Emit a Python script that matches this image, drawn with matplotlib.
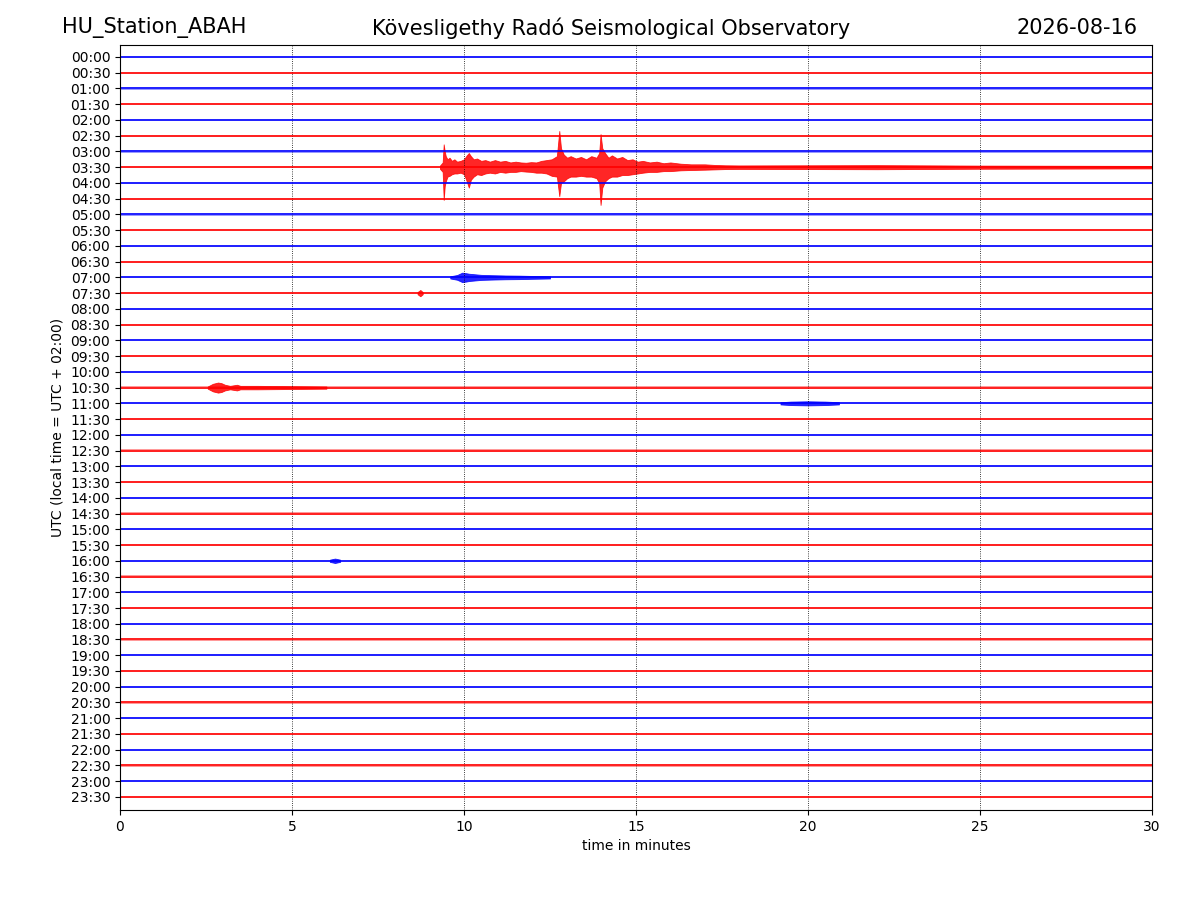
import matplotlib
matplotlib.use("Agg")
import matplotlib.pyplot as plt
import numpy as np

# ---------------- data ----------------
station = "HU_Station_ABAH"
observatory = "Kövesligethy Radó Seismological Observatory"
date_str = "2026-08-16"

row_labels = ["%02d:%02d" % (h, m) for h in range(24) for m in (0, 30)]
row_colors = ["blue", "red"]          # alternating trace colours
noise_halfwidth = 0.07                # background trace half-width (row units)

# event envelopes: times (min), upper / lower amplitude (row units)
ev_0330_row = "03:30"
ev_0330_t = [9.30, 9.38, 9.41, 9.44, 9.47, 9.52, 9.58, 9.65, 9.72, 9.80, 9.90,
             10.00, 10.08, 10.14, 10.20, 10.28, 10.38, 10.50, 10.62, 10.75, 10.90,
             11.05, 11.20, 11.35, 11.50, 11.65, 11.80, 11.95, 12.10, 12.25, 12.40,
             12.55, 12.70, 12.77, 12.82, 12.90, 13.00, 13.10, 13.25, 13.40, 13.55,
             13.70, 13.85, 13.93, 13.97, 14.02, 14.10, 14.20, 14.30, 14.45, 14.60,
             14.75, 14.90, 15.05, 15.20, 15.40, 15.60, 15.80, 16.00, 16.30, 16.60,
             17.00, 17.30, 17.60, 18.00, 20.00, 22.00, 25.00, 30.00]
ev_0330_up = [0.10, 0.30, 1.45, 1.00, 0.70, 0.50, 0.60, 0.40, 0.50, 0.35, 0.40,
              0.50, 0.75, 0.90, 0.70, 0.50, 0.55, 0.40, 0.45, 0.35, 0.45,
              0.35, 0.40, 0.30, 0.35, 0.30, 0.28, 0.32, 0.30, 0.40, 0.45,
              0.50, 0.70, 2.30, 1.20, 0.80, 0.60, 0.70, 0.55, 0.65, 0.50,
              0.70, 0.60, 0.90, 2.10, 1.20, 0.90, 0.60, 0.75, 0.55, 0.65,
              0.45, 0.50, 0.35, 0.40, 0.30, 0.35, 0.25, 0.30, 0.22, 0.18,
              0.18, 0.14, 0.12, 0.11, 0.12, 0.13, 0.10, 0.08]
ev_0330_dn = [0.10, 0.30, 2.08, 1.20, 0.90, 0.60, 0.55, 0.45, 0.40, 0.40, 0.35,
              0.45, 0.90, 1.30, 0.80, 0.60, 0.45, 0.50, 0.40, 0.35, 0.40,
              0.30, 0.35, 0.30, 0.30, 0.25, 0.28, 0.30, 0.35, 0.35, 0.40,
              0.55, 0.60, 1.84, 1.00, 0.90, 0.70, 0.60, 0.60, 0.55, 0.60,
              0.60, 0.70, 1.00, 2.40, 1.30, 0.90, 0.70, 0.60, 0.60, 0.50,
              0.50, 0.45, 0.40, 0.35, 0.30, 0.30, 0.25, 0.25, 0.20, 0.18,
              0.16, 0.14, 0.12, 0.11, 0.12, 0.13, 0.10, 0.08]

ev_0700_row = "07:00"
ev_0700_t = [9.60, 9.80, 9.95, 10.05, 10.15, 10.30, 10.50, 10.80, 11.20, 11.60, 12.00, 12.50]
ev_0700_a = [0.07, 0.15, 0.30, 0.27, 0.23, 0.20, 0.16, 0.14, 0.12, 0.11, 0.09, 0.07]

ev_0730_row = "07:30"
ev_0730_t = [8.65, 8.73, 8.80]
ev_0730_a = [0.07, 0.20, 0.07]

ev_1030_row = "10:30"
ev_1030_t = [2.55, 2.70, 2.85, 2.95, 3.05, 3.20, 3.40, 3.50, 4.00, 4.50, 5.50, 6.00]
ev_1030_a = [0.07, 0.24, 0.32, 0.28, 0.18, 0.11, 0.18, 0.11, 0.11, 0.10, 0.08, 0.07]

ev_1100_row = "11:00"
ev_1100_t = [19.20, 19.50, 20.00, 20.50, 20.90]
ev_1100_a = [0.07, 0.11, 0.13, 0.11, 0.07]

ev_1600_row = "16:00"
ev_1600_t = [6.10, 6.25, 6.40]
ev_1600_a = [0.07, 0.14, 0.07]

x_ticks = [0, 5, 10, 15, 20, 25, 30]

# ---------------- plot ----------------
fig = plt.figure(figsize=(12, 9), dpi=100)
ax = fig.add_axes([0.1, 0.1, 0.86, 0.85])

n = len(row_labels)
offsets = [-i for i in range(n)]

for i, lab in enumerate(row_labels):
    c = row_colors[i % 2]
    ax.fill_between([0, 30], offsets[i] - noise_halfwidth, offsets[i] + noise_halfwidth,
                    color=c, lw=0, alpha=0.4)
    ax.plot([0, 30], [offsets[i], offsets[i]], color=c, lw=1.1)

events = [
    (ev_0330_row, ev_0330_t, ev_0330_up, ev_0330_dn),
    (ev_0700_row, ev_0700_t, ev_0700_a, ev_0700_a),
    (ev_0730_row, ev_0730_t, ev_0730_a, ev_0730_a),
    (ev_1030_row, ev_1030_t, ev_1030_a, ev_1030_a),
    (ev_1100_row, ev_1100_t, ev_1100_a, ev_1100_a),
    (ev_1600_row, ev_1600_t, ev_1600_a, ev_1600_a),
]
for lab, t, up, dn in events:
    i = row_labels.index(lab)
    c = row_colors[i % 2]
    y0 = offsets[i]
    ax.fill_between(t, [y0 - d for d in dn], [y0 + u for u in up],
                    color=c, lw=0.6, edgecolor=c, alpha=0.85)

ax.set_xlim(0, 30)
ax.set_ylim(-47.83, 0.76)
ax.set_xticks(x_ticks)
ax.set_yticks(offsets)
ax.set_yticklabels(row_labels)
ax.xaxis.grid(True, linestyle=":", color="black", lw=0.6)
ax.yaxis.grid(False)
ax.set_xlabel("time in minutes")
ax.set_ylabel("UTC (local time = UTC + 02:00)")

fig.text(0.052, 0.969, station, fontsize=15, ha="left", va="center")
fig.text(0.509, 0.969, observatory, fontsize=15, ha="center", va="center")
fig.text(0.948, 0.969, date_str, fontsize=15, ha="right", va="center")

fig.savefig("out.png", dpi=100)
